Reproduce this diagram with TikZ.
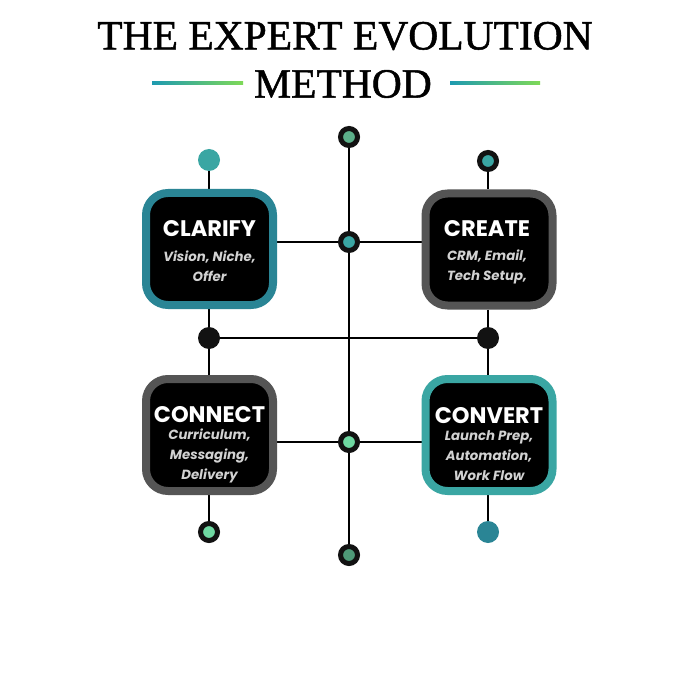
\documentclass[tikz,border=0pt]{standalone}
\usepackage{fontspec}
\setmainfont{Liberation Serif}
\newfontfamily\headfont{Poppins}
\usetikzlibrary{backgrounds}
\definecolor{tealdark}{HTML}{2A8595}
\definecolor{teallight}{HTML}{3AA6A3}
\definecolor{boxgray}{HTML}{555555}
\definecolor{subgray}{HTML}{D2D2D2}
\definecolor{gA}{HTML}{5CB08A}
\definecolor{gB}{HTML}{6FD9A2}
\definecolor{gC}{HTML}{4E9A78}
\definecolor{lineA}{HTML}{1E9AB0}
\definecolor{lineB}{HTML}{7ED957}
\begin{document}
\begin{tikzpicture}[x=1pt,y=-1pt,
  ln/.style={line width=1.8pt, black},
  stepbox/.style={fill=black, draw=#1, line width=8pt, rounded corners=22pt,
    minimum width=127pt, minimum height=112pt, inner sep=0pt},
  ring/.style={circle, draw=black!93, line width=5pt, fill=#1, minimum size=17pt, inner sep=0pt},
  solid dot/.style={circle, fill=#1, minimum size=22pt, inner sep=0pt},
  ttl/.style={text=white, font=\headfont\bfseries\fontsize{22.5}{22.5}\selectfont},
  sub/.style={text=subgray, align=center, font=\headfont\bfseries\itshape\fontsize{13.3}{20}\selectfont},
  big/.style={font=\fontsize{41.5}{41.5}\selectfont\addfontfeature{FakeBold=1.2}}
]
\useasboundingbox (0,0) rectangle (700,700);

% title
\node[big] (t1) at (345,36) {THE EXPERT EVOLUTION};
\node[big] (t2) at (343,84) {METHOD};
\shade[left color=lineA, right color=lineB] (152,82) rectangle (243,84.5);
\shade[left color=lineA, right color=lineB] (450,82) rectangle (540,84.5);

% boxes
\node[stepbox=tealdark] (clarify) at (209.5,249) {};
\node[stepbox=boxgray] (create) at (489,249.5) {};
\node[stepbox=boxgray] (connect) at (209.5,435) {};
\node[stepbox=teallight] (convert) at (489,435) {};

\node[ttl] at (209.5,229) {CLARIFY};
\node[sub] at (209.5,266) {Vision, Niche,\\Offer};
\node[ttl] at (487,229) {CREATE};
\node[sub] at (487,266.5) {CRM, Email,\\Tech Setup,};
\node[ttl] at (209.5,415) {CONNECT};
\node[sub] at (209.5,455.5) {Curriculum,\\Messaging,\\Delivery};
\node[ttl] at (489,416) {CONVERT};
\node[sub] at (489,456) {Launch Prep,\\Automation,\\Work Flow};

% dots
\node[solid dot=teallight] (dTL) at (209,160) {};
\node[ring=teallight] (dTR) at (488,161) {};
\node[solid dot=black!93] (dML) at (209,338) {};
\node[solid dot=black!93] (dMR) at (488,338) {};
\node[ring=gB] (dBL) at (209,532) {};
\node[solid dot=tealdark] (dBR) at (488,532) {};
\node[ring=gA] (cT) at (349,137) {};
\node[ring=teallight] (c1) at (349,242) {};
\node[ring=gB] (c2) at (349,442) {};
\node[ring=gC] (cB) at (349,555) {};

% connectors
\begin{scope}[on background layer]
\fill[white] (0,0) rectangle (700,700);
\draw[ln] (dTL) -- (dTL |- clarify.north);
\draw[ln] (dML |- clarify.south) -- (dML);
\draw[ln] (dML) -- (dML |- connect.north);
\draw[ln] (dBL |- connect.south) -- (dBL);
\draw[ln] (dTR) -- (dTR |- create.north);
\draw[ln] (dMR |- create.south) -- (dMR);
\draw[ln] (dMR) -- (dMR |- convert.north);
\draw[ln] (dBR |- convert.south) -- (dBR);
\draw[ln] (dML) -- (dMR);
\draw[ln] (cT) -- (c1) -- (c2) -- (cB);
\draw[ln] (clarify.east |- c1) -- (c1) -- (create.west |- c1);
\draw[ln] (connect.east |- c2) -- (c2) -- (convert.west |- c2);
\end{scope}
\end{tikzpicture}
\end{document}
